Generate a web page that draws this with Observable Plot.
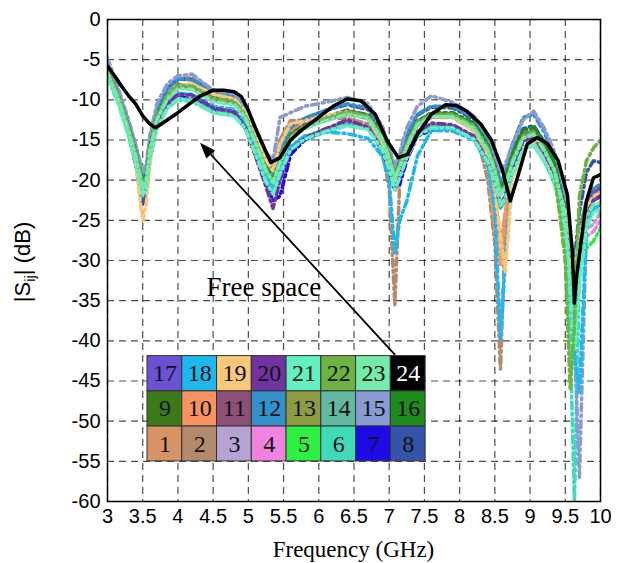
<!DOCTYPE html>
<html>
<head>
<meta charset="utf-8">
<script src="https://cdn.jsdelivr.net/npm/d3@7"></script>
<script src="https://cdn.jsdelivr.net/npm/@observablehq/plot@0.6"></script>
<style>
  html, body { margin: 0; padding: 0; background: #fff; }
</style>
</head>
<body>
<div id="chart"></div>
<script>
// Frequency grid (GHz) shared by the 23 port curves
const freq = [3.0,3.15,3.3,3.4,3.5,3.55,3.6,3.7, 3.85,4.0,4.2,4.5,4.8,4.95,5.1,5.25, 5.35,5.45,5.6,5.8,6.1,6.4,6.7,6.9, 7.0,7.08,7.15,7.25,7.4,7.6,7.9,8.2, 8.4,8.5,8.58,8.65,8.75,8.9,9.05,9.2, 9.35,9.5,9.57,9.63,9.7,9.8,9.9,10.0];

// |Sii| (dB) for ports 1..23
const p1  = [-6.8,-9.8,-13.8,-17,-21,-20,-16.5,-12.5, -9.8,-8.5,-8.2,-9.5,-10,-11.5,-14.5,-18, -19.5,-17,-14,-13,-12.5,-11.8,-12.3,-15, -17.5,-20,-18.5,-15.8,-13,-12,-12,-13.5, -17,-22,-28,-24,-18,-15,-14.2,-16.2, -19,-24,-29,-31,-26,-23,-21,-21];
const p2  = [-6.5,-9.3,-13,-16,-19.5,-19,-15.5,-11.8, -8.6,-7.4,-7.2,-8.8,-9.6,-10.8,-13.8,-17, -18.5,-15,-12.6,-12.5,-12.3,-12.3,-13,-16.5, -21,-35.5,-20,-16,-13,-11.8,-12,-12.8, -20,-28,-43.5,-25,-18.5,-15,-14.5,-16.5, -19.5,-25,-31,-34,-28,-24,-22.5,-22];
const p3  = [-6.2,-9.2,-13.2,-16.5,-20,-19.2,-15.8,-12, -9.5,-8.3,-8.5,-10,-10.5,-12,-15,-18.5, -20.5,-18,-14.8,-13.5,-12.5,-11.8,-12.2,-14.5, -17,-19,-17.5,-15,-12.8,-11.8,-12,-13.2, -15.8,-18,-21,-20,-17.2,-14.5,-14,-15.8, -18.5,-23,-28,-31,-28,-26,-25.5,-24];
const p4  = [-6.6,-9.6,-13.6,-16.8,-20.5,-19.5,-16,-12.2, -9.6,-8.4,-8.6,-10.2,-10.4,-11.8,-15.2,-18.8, -20.2,-17.6,-14.6,-13.4,-12.4,-11.6,-12,-14.6, -17.2,-19.6,-18,-15.4,-12.9,-11.9,-11.9,-13.3, -16.2,-18.8,-21.5,-20.4,-17.4,-14.6,-14.2,-16.2, -18.8,-24,-29,-30,-28.5,-27,-26.4,-25];
const p5  = [-6.4,-9.4,-13.4,-16.4,-20.2,-19.4,-16,-12, -9.4,-8.1,-8.4,-9.9,-10.2,-11.8,-15,-18.4, -19.8,-17.4,-14.4,-13.2,-12.2,-11.4,-11.9,-14.4, -16.9,-19.4,-17.9,-15.4,-12.7,-11.7,-11.7,-13.1, -15.9,-18.4,-21.4,-20.4,-17.4,-14.4,-13.9,-15.9, -18.4,-23.5,-29,-32,-30,-28.5,-27.6,-26];
const p6  = [-7.2,-10.3,-14.5,-18,-22,-21,-17.5,-13.5, -11,-10,-10.2,-11.6,-12,-13.5,-16.5,-19.8, -21.5,-19.5,-16.2,-15,-14,-13.2,-13.6,-16, -18.8,-21,-19.5,-17,-14.5,-13.5,-13.4,-14.8, -17.5,-20,-23.5,-22.5,-19,-16,-15.6,-17.5, -20.5,-27,-40,-60,-31,-25,-23.5,-23];
const p7  = [-6.8,-9.9,-14.2,-18,-23,-21.5,-17.5,-13.2, -10.6,-9.6,-9.9,-11.3,-11.6,-13.4,-16.6,-20.2, -22.5,-22,-16.8,-15,-13.8,-12.8,-13.4,-16, -18.5,-20.5,-20.5,-17.5,-14.5,-13.8,-13.5,-14.6, -17.4,-20,-23,-22,-19,-16,-15.5,-17.5, -20,-25,-31,-34,-28,-24.5,-22.5,-22];
const p8  = [-5.6,-8.8,-13.2,-16.8,-23,-21,-16,-11.4, -8.6,-7.4,-7.5,-9,-9.4,-11,-14.2,-17.6, -19,-16.5,-13.5,-12.3,-11.3,-10.6,-11.2,-13.6, -16.2,-18.6,-17,-14.4,-11.9,-10.9,-11,-12.4, -15.2,-17.6,-20.4,-19.4,-16.4,-13.6,-13.2,-15.2, -17.6,-22,-27,-30,-24,-19,-17.6,-17.8];
const p9  = [-6.5,-9.5,-13.5,-16.6,-20.4,-19.6,-16.2,-12.2, -9.6,-8.3,-8.4,-9.9,-10.3,-11.9,-15.1,-18.6, -20,-17.5,-14.5,-13.3,-12.3,-11.5,-12.1,-14.6, -17.1,-19.6,-18.1,-15.6,-12.9,-11.9,-11.9,-13.3, -16.1,-18.6,-21.6,-20.6,-17.6,-14.6,-14.1,-16.1, -18.6,-24.2,-30.5,-33.5,-27.5,-23.8,-22.2,-22];
const p10 = [-6.7,-9.7,-13.7,-16.8,-20.8,-19.8,-16.3,-12.4, -9.7,-8.4,-8.2,-9.6,-10.1,-11.6,-14.8,-18.2, -19.5,-16.8,-13.8,-13,-12.2,-11.6,-12.2,-15.2, -18,-20.5,-18.8,-16,-13.2,-12.2,-12.2,-13.8, -18,-26,-30.5,-24,-18.5,-15,-14.5,-16.5, -19,-24,-30,-32,-27,-23,-21.5,-21.5];
const p11 = [-6.3,-9.4,-13.4,-16.5,-20.2,-19.4,-15.9,-12, -9.4,-8.1,-8.2,-9.7,-10.1,-11.7,-14.9,-18.4, -19.9,-17.3,-14.3,-13.1,-12.1,-11.3,-11.9,-14.4, -16.9,-19.4,-17.9,-15.4,-12.7,-11.7,-11.7,-13.1, -15.9,-18.4,-21.4,-20.4,-17.4,-14.3,-13.8,-15.8, -18.3,-23.8,-29.5,-32.5,-27,-23.4,-21.8,-21.5];
const p12 = [-5.8,-8.9,-12.9,-15.9,-19.6,-18.8,-15.2,-11.2, -8.7,-7.4,-7.5,-9,-9.4,-11,-14.2,-17.6, -19.1,-16.5,-13.5,-12.3,-11.3,-10.5,-11,-13.5, -16,-18.5,-17,-14.5,-11.8,-10.8,-10.8,-12.2, -15,-17.5,-20.5,-19,-15.5,-12.2,-11.8,-14, -17.2,-23,-28.5,-31.5,-26.5,-22.5,-21,-20.5];
const p13 = [-6.6,-9.6,-13.6,-16.7,-20.6,-19.7,-16.2,-12.3, -9.7,-8.4,-8.5,-10,-10.4,-12,-15.2,-18.7, -20.2,-17.7,-14.7,-13.4,-12.4,-11.6,-12.2,-14.7, -17.2,-19.7,-18.2,-15.7,-13,-12,-12,-13.4, -16.2,-18.7,-21.7,-20.7,-17.7,-14.7,-14.2,-16.2, -18.7,-24.3,-30.5,-33.5,-27.5,-23.8,-22.3,-22.2];
const p14 = [-7.2,-10.2,-14.3,-17.5,-21.5,-20.6,-17.2,-13.4, -10.9,-9.8,-10,-11.4,-11.8,-13.3,-16.4,-19.6, -20.8,-18.8,-15.9,-14.6,-13.6,-12.8,-13.4,-15.8, -18.2,-20.6,-19.2,-16.8,-14.2,-13.2,-13.2,-14.6, -17.4,-19.9,-22.9,-21.9,-18.9,-15.9,-15.4,-17.4, -19.9,-25.5,-32,-35,-29,-25,-23.5,-23.4];
const p15 = [-4.8,-8.5,-12.5,-15.5,-19,-18,-14.5,-10.5, -8,-7,-6.8,-8.8,-9.3,-10.8,-13.5,-16.5, -17.5,-12.2,-11.6,-10.8,-10.3,-9.7,-10.5,-13.2, -16,-18.5,-16.5,-13.5,-10.8,-9.5,-10.3,-12, -14.5,-17,-19,-18,-15.5,-12.5,-11.4,-13.5, -16.5,-22,-28,-40,-57,-26,-22,-21];
const p16 = [-6.4,-9.4,-13.4,-16.4,-20.3,-19.4,-16,-12, -9.5,-8.2,-8.3,-9.8,-10.1,-11.7,-14.9,-18.4, -19.9,-17.4,-14.4,-13.2,-12.2,-11.4,-11.9,-14.4, -16.9,-19.4,-17.9,-15.4,-12.7,-11.6,-11.6,-12.9, -15.6,-18.2,-21.2,-20,-16.8,-13.8,-13.4,-15.2, -18,-23.6,-29.5,-32.5,-27,-23,-21.5,-21];
const p17 = [-6.5,-9.6,-13.7,-16.9,-20.8,-19.9,-16.4,-12.4, -9.7,-8.4,-8.5,-10,-10.4,-12,-15.3,-18.8, -20.3,-17.8,-14.8,-13.5,-12.5,-11.7,-12.3,-14.8, -17.3,-19.8,-18.3,-15.8,-13.1,-12.1,-12.1,-13.5, -16.3,-18.8,-21.8,-20.8,-17.8,-14.8,-14.3,-16.3, -18.8,-24.3,-30.5,-33.5,-27.5,-23.5,-21.5,-21];
const p18 = [-7,-10,-14,-17.5,-22,-21,-17.5,-13.2, -10.5,-9.2,-9.3,-10.8,-11.2,-12.8,-16,-19.5, -21,-19,-15.8,-14.5,-14,-14.2,-14.8,-17, -20,-29,-25,-22.6,-17,-13.8,-13.9,-15, -18,-24,-39.7,-30,-19,-16,-15.5,-17, -20,-26,-33,-42,-46.4,-26,-23.5,-23];
const p19 = [-6.6,-9.7,-14,-18,-25.1,-23,-18,-13, -9.6,-8.2,-8,-9.3,-9.9,-11.4,-14.5,-17.5, -18.8,-15.5,-13,-12.6,-12,-11.5,-12.2,-15.2, -18,-20,-18.5,-15.8,-13,-12,-12.2,-13.8, -17,-21,-27,-31.4,-20,-16,-15.5,-17.5, -19.5,-24,-29,-31,-27,-23.5,-22,-21.5];
const p20 = [-6.4,-9.6,-13.9,-17.3,-21.2,-20.3,-16.8,-13, -10.5,-9.3,-9.4,-11,-11.5,-13.3,-17,-20.8, -23.5,-20,-16.2,-14.8,-13.6,-12.5,-13.4,-16.3, -18.8,-21.3,-19.5,-16.9,-14,-12.9,-13.1,-14.5, -17.6,-20.2,-23.3,-22,-18.5,-15.2,-14.5,-16.5, -19.3,-24.8,-31,-34,-28.5,-24.5,-22.5,-22];
const p21 = [-7.2,-10.4,-14.6,-17.8,-21.8,-20.8,-17.3,-13.6, -11,-9.9,-10.1,-11.6,-12,-13.5,-16.7,-20.2, -21.7,-19.2,-16.2,-14.9,-13.9,-13.2,-13.7,-16.2, -18.7,-21.2,-19.7,-17.2,-14.5,-13.5,-13.5,-14.9, -17.7,-20.2,-23.2,-22.2,-19.2,-16.2,-15.7,-17.7, -20.2,-26,-34,-41,-33,-26,-24,-23.8];
const p22 = [-6.3,-9.4,-13.5,-16.6,-20.5,-19.6,-16.1,-12.1, -9.5,-8.2,-8.3,-9.8,-10.2,-11.8,-15.1,-18.6, -20.1,-17.6,-14.6,-13.3,-12.3,-11.5,-12,-14.5, -17,-19.5,-18,-15.5,-12.8,-11.8,-11.8,-13.2, -16,-18.5,-21.5,-20.5,-17.5,-14.5,-14,-16, -19,-30,-46,-38,-22,-17.6,-16,-15];
const p23 = [-6.7,-9.8,-13.9,-17,-21,-20,-16.5,-12.5, -9.9,-8.6,-8.7,-10.2,-10.6,-12.1,-15.3,-18.8, -20.3,-17.8,-14.8,-13.6,-12.6,-11.8,-12.3,-14.8, -17.3,-19.8,-18.3,-15.8,-13.1,-12.1,-12.1,-13.5, -16.3,-18.8,-21.8,-20.8,-17.8,-14.8,-14.3,-16.3, -18.8,-24.5,-31,-35,-28.5,-24.5,-23,-22.8];

// Free space (black) curve
const freeFreq  = [3.0,3.1,3.2,3.3,3.4,3.5,3.6,3.68,3.8,4.0,4.15,4.3,4.5,4.65,4.8,4.9,5.0,5.1,5.2,5.32,5.45,5.6,5.75,5.95,6.2,6.4,6.6,6.8,6.97,7.13,7.26,7.4,7.6,7.8,7.95,8.1,8.3,8.45,8.6,8.72,8.82,8.96,9.1,9.25,9.4,9.53,9.6,9.63,9.66,9.72,9.8,9.9,10.0];
const freeSpace = [-5.8,-7,-8.3,-9.5,-10.5,-12,-13,-13.5,-12.8,-11.6,-10.6,-9.6,-8.8,-8.8,-9,-9.6,-11.3,-13.5,-15.5,-17.8,-17.2,-15,-13.8,-12.5,-10.8,-9.9,-10.1,-11.8,-15.1,-17.2,-16.8,-14.3,-11.8,-10.6,-10.7,-11.4,-13,-15,-18.5,-22.6,-19.7,-15.5,-14.7,-15.5,-17.6,-21.8,-29,-35.3,-32,-28,-22.6,-19.7,-19.3];

const portColors = ["#D99465","#B38A6C","#B4A3D3","#F083E0","#2EF043","#3FDBB8","#1E0AE6","#3354A8",
                    "#3C7A18","#F8925F","#8C5077","#3390C9","#8D9B41","#60B9A0","#8A9BD2","#1D8B1D",
                    "#6A52D3","#1DB8EE","#F8C97A","#7133A0","#62F0C2","#6DB243","#75EAAA","#000000"];
const portLabels = ["1","2","3","4","5","6","7","8","9","10","11","12","13","14","15","16","17","18","19","20","21","22","23","24"];

const xTicks = [3,3.5,4,4.5,5,5.5,6,6.5,7,7.5,8,8.5,9,9.5,10];
const yTicks = [0,-5,-10,-15,-20,-25,-30,-35,-40,-45,-50,-55,-60];
const xTitle = "Frequency (GHz)";

// legend block placement (GHz / dB) and annotation anchors
const legendX0 = 3.568, legendColW = 0.4936, legendY0 = -41.9, legendRowH = 4.37;
const freeLabel = {x: 5.22, y: -33.3, text: "Free space"};
const arrowSpec = {x1: 7.09, y1: -41.8, x2: 4.32, y2: -15.4};

const series = [p1,p2,p3,p4,p5,p6,p7,p8,p9,p10,p11,p12,p13,p14,p15,p16,p17,p18,p19,p20,p21,p22,p23];
const rows = [];
series.forEach((vals, i) => vals.forEach((v, j) => rows.push({port: i + 1, f: freq[j], s: v, c: portColors[i]})));
const freeRows = freeFreq.map((f, j) => ({f, s: freeSpace[j]}));

const cells = portLabels.map((lab, i) => {
  const row = Math.floor(i / 8);        // 0 = bottom row (1-8)
  const col = i % 8;
  const rTop = 2 - row;                 // 0 = top row
  return {
    label: lab,
    c: portColors[i],
    tc: i === 23 ? "#ffffff" : "#111111",
    x1: legendX0 + col * legendColW,
    x2: legendX0 + (col + 1) * legendColW,
    y1: legendY0 - rTop * legendRowH,
    y2: legendY0 - (rTop + 1) * legendRowH,
    xm: legendX0 + (col + 0.5) * legendColW,
    ym: legendY0 - (rTop + 0.5) * legendRowH
  };
});

const serif = "Liberation Serif, Times New Roman, serif";
const sans = "Liberation Sans, Arial, sans-serif";
const fmt = d => String(d);

const plot = Plot.plot({
  width: 622,
  height: 563,
  marginLeft: 107,
  marginRight: 22,
  marginTop: 19,
  marginBottom: 62,
  style: {fontFamily: sans, fontSize: "20px", background: "#fff", overflow: "visible"},
  x: {domain: [3, 10], label: null},
  y: {domain: [-60, 0], label: null},
  color: {type: "identity"},
  marks: [
    Plot.gridX(xTicks, {stroke: "#000", strokeOpacity: 0.7, strokeWidth: 1.2, strokeDasharray: "7,5"}),
    Plot.gridY(yTicks, {stroke: "#000", strokeOpacity: 0.7, strokeWidth: 1.2, strokeDasharray: "7,5"}),
    Plot.line(rows, {x: "f", y: "s", z: "port", stroke: "c", strokeWidth: 3.6, strokeDasharray: "7,4,2,4", clip: true}),
    Plot.rect(cells, {x1: "x1", x2: "x2", y1: "y1", y2: "y2", fill: "c", stroke: "#333", strokeWidth: 1}),
    Plot.text(cells, {x: "xm", y: "ym", text: "label", fill: "tc", fontFamily: serif, fontSize: 24}),
    Plot.line(freeRows, {x: "f", y: "s", stroke: "#000", strokeWidth: 3.5, clip: true}),
    Plot.text([freeLabel], {x: "x", y: "y", text: "text", fontFamily: serif, fontSize: 27, fill: "#000"}),
    Plot.frame({stroke: "#000", strokeWidth: 1.5}),
    Plot.axisX(xTicks, {tickSize: 0, tickPadding: 7, fontSize: 20, fill: "#000", label: null, tickFormat: fmt}),
    Plot.axisY(yTicks, {tickSize: 0, tickPadding: 7, fontSize: 20, fill: "#000", label: null, tickFormat: fmt})
  ]
});

document.getElementById("chart").appendChild(plot);

// Annotation arrow (filled head), axis titles, using Plot's scales
const sx = plot.scale("x"), sy = plot.scale("y");
const svg = d3.select(plot);
const ax1 = sx.apply(arrowSpec.x1), ay1 = sy.apply(arrowSpec.y1);
const ax2 = sx.apply(arrowSpec.x2), ay2 = sy.apply(arrowSpec.y2);
const ang = Math.atan2(ay2 - ay1, ax2 - ax1);
const hl = 16, hw = 6;
const bx = ax2 - hl * Math.cos(ang), by = ay2 - hl * Math.sin(ang);
svg.append("line").attr("x1", ax1).attr("y1", ay1).attr("x2", bx).attr("y2", by)
  .attr("stroke", "#000").attr("stroke-width", 1.8);
svg.append("polygon")
  .attr("points", [
    [ax2, ay2],
    [bx + hw * Math.sin(ang), by - hw * Math.cos(ang)],
    [bx - hw * Math.sin(ang), by + hw * Math.cos(ang)]
  ].map(p => p.join(",")).join(" "))
  .attr("fill", "#000");

const xMid = (sx.apply(3) + sx.apply(10)) / 2;
svg.append("text")
  .attr("x", xMid).attr("y", 557)
  .attr("text-anchor", "middle")
  .attr("font-family", serif)
  .attr("font-size", 23)
  .attr("fill", "#000")
  .text(xTitle);

const yl = svg.append("text")
  .attr("transform", "translate(30,262) rotate(-90)")
  .attr("text-anchor", "middle")
  .attr("font-family", sans)
  .attr("font-size", 22)
  .attr("fill", "#000");
yl.append("tspan").text("|S");
yl.append("tspan").attr("font-size", 15).attr("dy", 5).text("ij");
yl.append("tspan").attr("dy", -5).text("| (dB)");
</script>
</body>
</html>
